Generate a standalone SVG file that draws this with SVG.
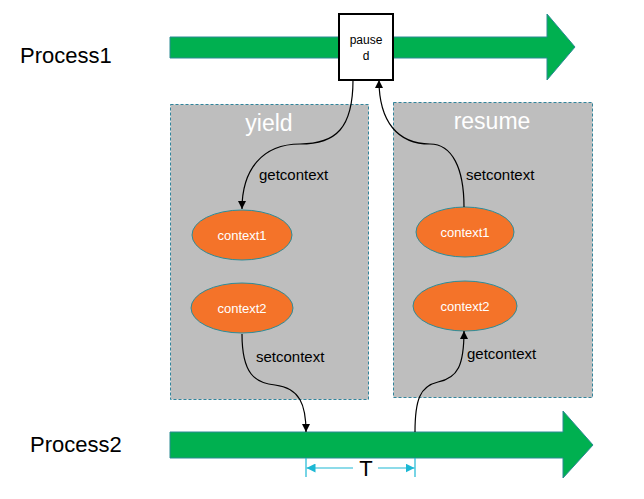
<svg xmlns="http://www.w3.org/2000/svg" width="644" height="499" viewBox="0 0 644 499">
<defs>
<style>
.lbl{font-family:"Liberation Sans",Arial,sans-serif;fill:#000}
.big{font-size:22px}
.edge{font-size:15px}
.proc{fill:#00B050;stroke:#2A8A93;stroke-width:1}
.grp{fill:#BEBEBE;stroke:#31849B;stroke-width:1;stroke-dasharray:3 2}
.grpt{font-family:"Liberation Sans",Arial,sans-serif;font-size:23px;fill:#fff;text-anchor:middle}
.ctx{fill:#F47329;stroke:#2C8C99;stroke-width:1}
.ctxt{font-family:"Liberation Sans",Arial,sans-serif;font-size:13px;fill:#fff;text-anchor:middle}
.con{fill:none;stroke:#000;stroke-width:1.2}
.dim{fill:none;stroke:#1CB8D4;stroke-width:1.2}
</style>
<marker id="ah" viewBox="0 0 10 10" refX="10" refY="5" markerWidth="8" markerHeight="8" markerUnits="userSpaceOnUse" orient="auto"><path d="M0,0 L10,5 L0,10 z" fill="#000"/></marker>
<marker id="dh" viewBox="0 0 10 10" refX="10" refY="5" markerWidth="9" markerHeight="9" markerUnits="userSpaceOnUse" orient="auto"><path d="M0,0 L10,5 L0,10 z" fill="#1CB8D4"/></marker>
</defs>

<g id="process1-label"><text class="lbl big" x="20" y="63">Process1</text></g>
<g id="process2-label"><text class="lbl big" x="30" y="452">Process2</text></g>

<g id="process1"><polygon class="proc" points="170,37 547,37 547,14 575,47 547,80 547,58 170,58"/></g>
<g id="process2"><polygon class="proc" points="170,432 563,432 563,411 593,445 563,478 563,458 170,458"/></g>

<g id="yield"><rect class="grp" x="170.5" y="104.5" width="198" height="295"/><text class="grpt" x="269" y="131">yield</text></g>
<g id="resume"><rect class="grp" x="393.5" y="102.5" width="199" height="295"/><text class="grpt" x="492" y="129">resume</text></g>

<g id="paused"><rect x="339" y="14" width="54" height="66" fill="#fff" stroke="#000" stroke-width="2"/>
<text class="lbl" font-size="12" text-anchor="middle" x="366" y="44">pause</text>
<text class="lbl" font-size="12" text-anchor="middle" x="366" y="60">d</text></g>

<g id="yield-context1"><ellipse class="ctx" cx="242" cy="235" rx="50" ry="25"/><text class="ctxt" x="242" y="240">context1</text></g>
<g id="yield-context2"><ellipse class="ctx" cx="242" cy="308" rx="51" ry="25"/><text class="ctxt" x="242" y="313">context2</text></g>
<g id="resume-context1"><ellipse class="ctx" cx="465" cy="232" rx="49" ry="25"/><text class="ctxt" x="465" y="237">context1</text></g>
<g id="resume-context2"><ellipse class="ctx" cx="465" cy="306" rx="52" ry="25"/><text class="ctxt" x="465" y="311">context2</text></g>

<g id="connectors">
<path class="con" d="M353,80 C353,128 336,144 300,144 C262,144 242,170 242,209" marker-end="url(#ah)"/>
<path class="con" d="M464,207 C464,168 452,144 430,144 C398,144 379,122 379,80" marker-end="url(#ah)"/>
<path class="con" d="M242,334 C242,374 255,383 275,385 C300,388 306,405 306,432" marker-end="url(#ah)"/>
<path class="con" d="M415,432 C415,400 420,386 438,382 C458,378 464,365 464,331" marker-end="url(#ah)"/>
<text class="lbl edge" x="259" y="180">getcontext</text>
<text class="lbl edge" x="466" y="180">setcontext</text>
<text class="lbl edge" x="256" y="362">setcontext</text>
<text class="lbl edge" x="467" y="359">getcontext</text>
</g>

<g id="dimension-T">
<line class="dim" x1="306" y1="458" x2="306" y2="477"/>
<line class="dim" x1="415" y1="458" x2="415" y2="477"/>
<line class="dim" x1="353" y1="468" x2="306.5" y2="468" marker-end="url(#dh)"/>
<line class="dim" x1="378" y1="468" x2="414.5" y2="468" marker-end="url(#dh)"/>
<text class="lbl big" text-anchor="middle" x="366" y="476">T</text>
</g>
</svg>
